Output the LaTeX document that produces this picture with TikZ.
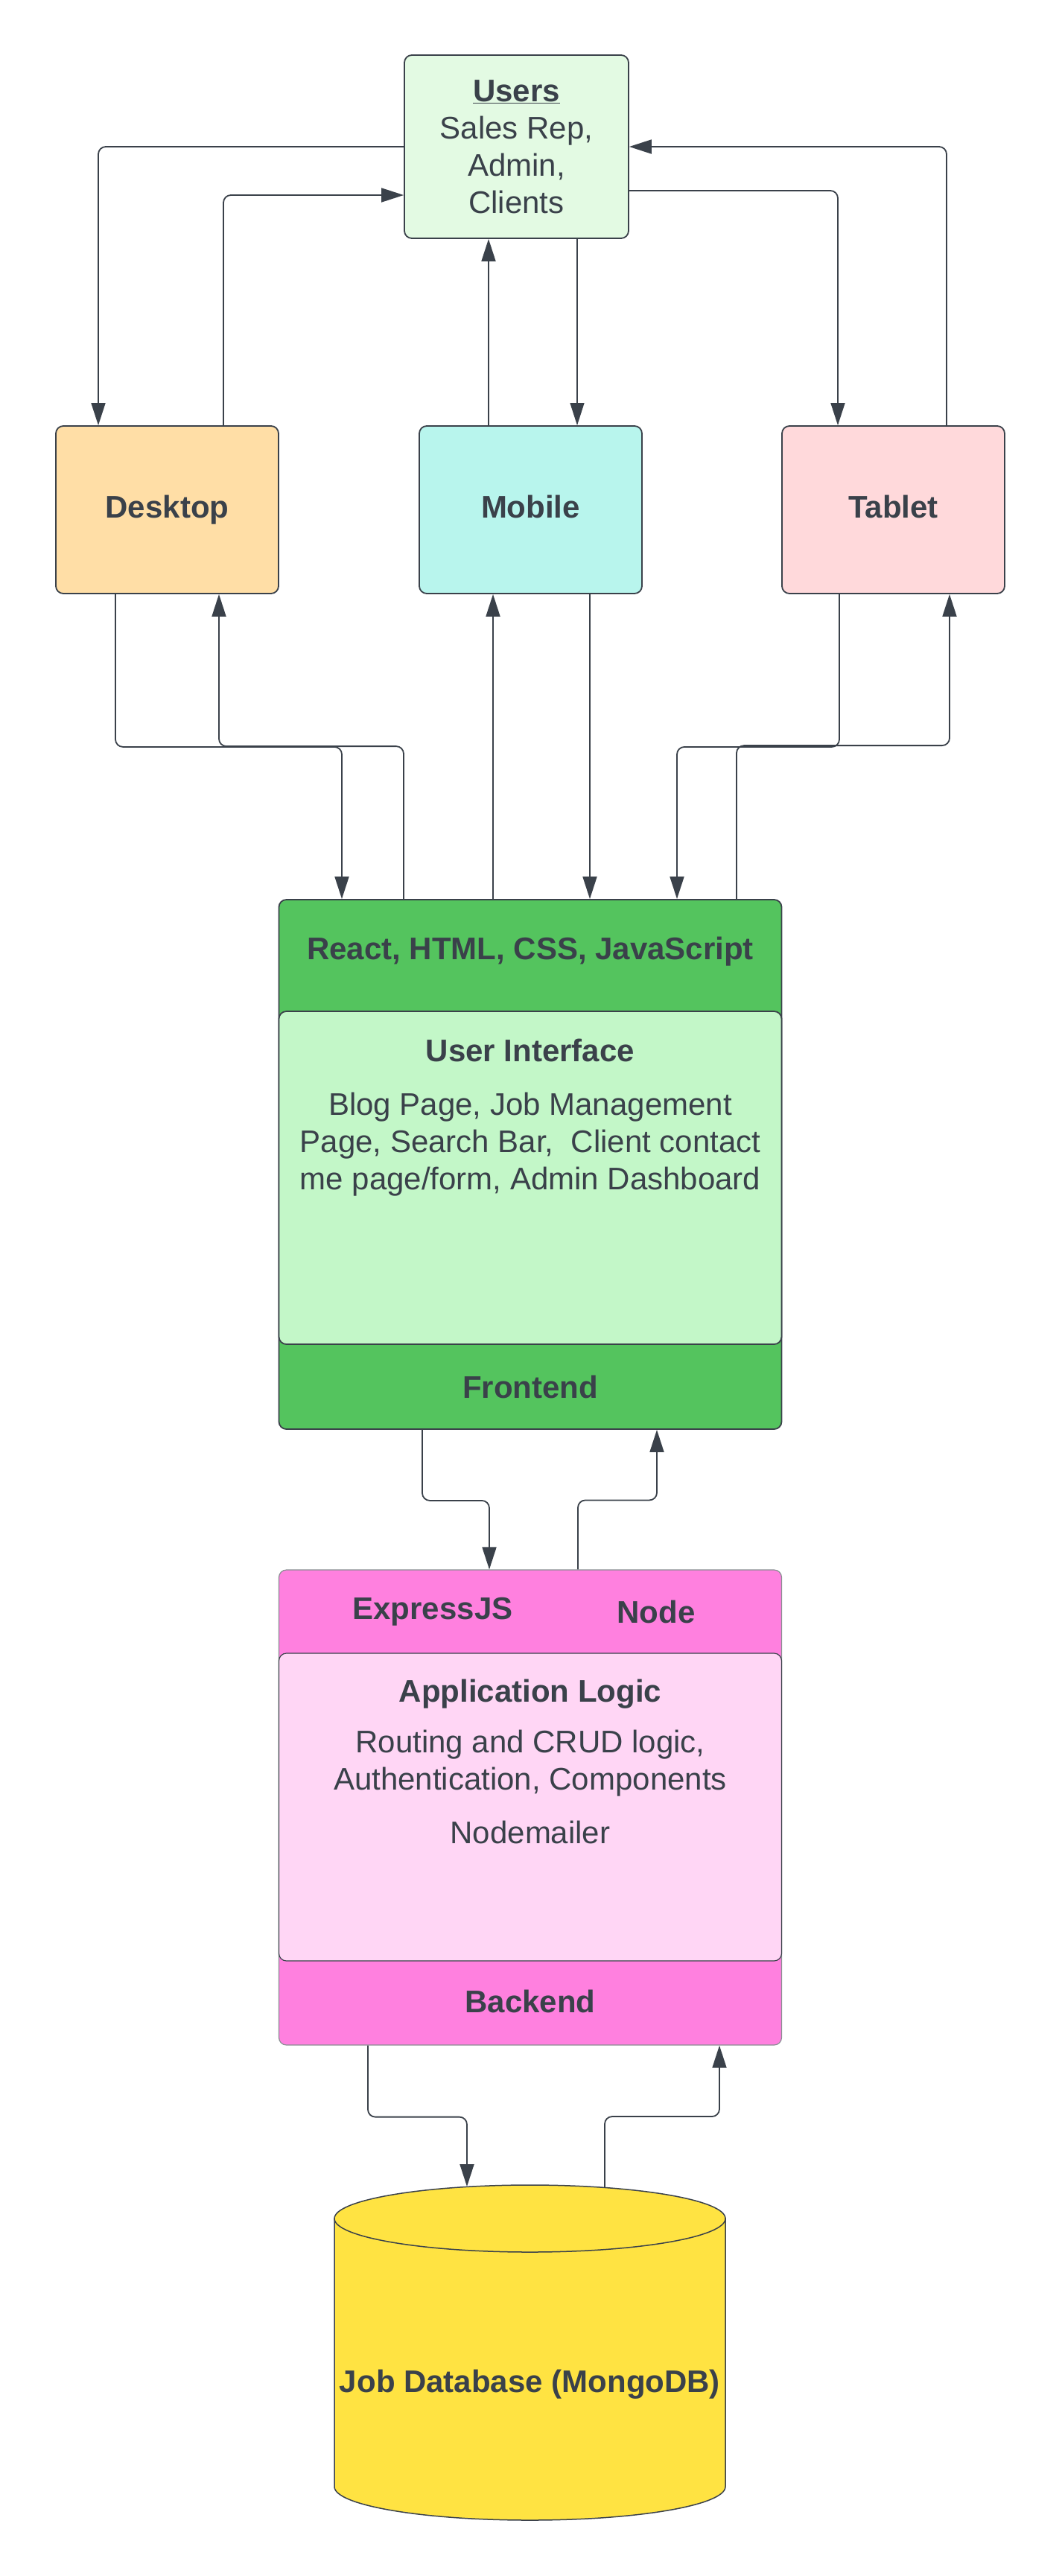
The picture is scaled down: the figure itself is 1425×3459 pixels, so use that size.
\documentclass[tikz,border=0pt]{standalone}
\usepackage{fontspec}
\setmainfont{Liberation Sans}
\usetikzlibrary{arrows.meta, positioning, calc}
\definecolor{linegray}{RGB}{58,65,74}
\definecolor{usersgreen}{RGB}{227,250,227}
\definecolor{desktoporange}{RGB}{255,222,166}
\definecolor{mobileteal}{RGB}{184,245,237}
\definecolor{tabletpink}{RGB}{255,217,219}
\definecolor{frontgreen}{RGB}{84,196,94}
\definecolor{frontlight}{RGB}{195,247,200}
\definecolor{backpink}{RGB}{255,128,223}
\definecolor{backlight}{RGB}{255,214,245}
\definecolor{dbyellow}{RGB}{255,227,66}
\newcommand{\diagfont}{\fontsize{42}{50}\selectfont}

\begin{document}
\begin{tikzpicture}[x=1pt, y=-1pt,
  box/.style={draw=linegray, line width=1.8pt, rounded corners=10pt,
    minimum width=299pt, minimum height=225pt, inner sep=0pt, align=center,
    text=linegray, font=\diagfont\bfseries},
  device/.style={box, text height=30pt, text depth=9pt},
  layer/.style={draw=linegray, line width=1.8pt, rounded corners=10pt,
    minimum width=675pt, inner sep=0pt},
  txt/.style={text=linegray, font=\diagfont\bfseries, inner sep=0pt, align=center},
  bodytxt/.style={text=linegray, font=\diagfont, inner sep=0pt, align=center},
  arr/.style={-{Triangle[length=30pt, width=19pt]}, line width=1.8pt, draw=linegray,
    rounded corners=10pt}
]
  \useasboundingbox (0,0) rectangle (1425,3459);

  % users and devices
  \node[box, fill=usersgreen, minimum width=301pt, minimum height=246pt, font=\diagfont] (users) at (693.5,197)
    {\underline{\textbf{Users}}\\Sales Rep,\\Admin,\\Clients};
  \node[device, fill=desktoporange] (desktop) at (224.5,684.5) {Desktop};
  \node[device, fill=mobileteal] (mobile) at (712.5,684.5) {Mobile};
  \node[device, fill=tabletpink] (tablet) at (1199.5,684.5) {Tablet};

  \draw[arr] (users.west) -| ([xshift=-92.5pt]desktop.north);
  \draw[arr] ([xshift=75.5pt]desktop.north) |- ([yshift=-65pt]users.west);
  \draw[arr] ([xshift=-56.5pt]mobile.north) -- ([xshift=-56.5pt]mobile.north |- users.south);
  \draw[arr, line width=1.2pt] ([xshift=62.5pt]mobile.north |- users.south) -- ([xshift=62.5pt]mobile.north);
  \draw[arr] ([yshift=-59pt]users.east) -| ([xshift=-74.5pt]tablet.north);
  \draw[arr] ([xshift=71.5pt]tablet.north) |- (users.east);

  % frontend
  \node[layer, fill=frontgreen, minimum height=711pt] (front) at (712,1563.5) {};
  \node[layer, fill=frontlight, minimum height=447pt] (frontbody) at (712,1581.5) {};
  \node[txt] (tech) at (712,1278) {React, HTML, CSS, JavaScript};
  \node[txt] (ui) at (712,1410) {User Interface};
  \node[bodytxt] (pages) at (712,1537) {Blog Page, Job Management\\Page, Search Bar,~ Client contact\\me page/form, Admin Dashboard};
  \node[txt] (fronttitle) at (712,1862) {Frontend};

  \draw[arr] ([xshift=-69.5pt]desktop.south) -- ++(0,205) -| ([xshift=-253pt]front.north);
  \draw[arr] ([xshift=-170pt]front.north) -- ++(0,-205) -| ([xshift=69.5pt]desktop.south);
  \draw[arr] ([xshift=-50pt]front.north) -- ([xshift=-50pt]front.north |- mobile.south);
  \draw[arr] ([xshift=80pt]front.north |- mobile.south) -- ([xshift=80pt]front.north);
  \draw[arr] ([xshift=-72.5pt]tablet.south) -- ++(0,205) -| ([xshift=197pt]front.north);
  \draw[arr] ([xshift=277pt]front.north) -- ++(0,-206) -| ([xshift=75.5pt]tablet.south);

  % backend
  \node[layer, fill=backpink, draw=linegray!60, line width=1.2pt, minimum height=638pt] (back) at (712,2427) {};
  \node[layer, fill=backlight, line width=1.2pt, minimum height=413pt] (backbody) at (712,2426.5) {};
  \node[txt] (express) at (581,2164) {ExpressJS};
  \node[txt] (nodejs) at (881,2164) {Node};
  \node[txt] (logic) at (712,2275) {Application Logic};
  \node[bodytxt] (routing) at (712,2368) {Routing and CRUD logic,\\Authentication, Components};
  \node[bodytxt] (mailer) at (712,2460) {Nodemailer};
  \node[txt] (backtitle) at (712,2687) {Backend};

  \draw[arr] ([xshift=-145pt]front.south) -- ++(0,95) -| ([xshift=-55pt]back.north);
  \draw[arr] ([xshift=64pt]back.north) -- ++(0,-93) -| ([xshift=170pt]front.south);

  % database
  \draw[linegray, line width=1.5pt, fill=dbyellow]
    (449,2979) -- (449,3339) .. controls (449,3363.9) and (566.5,3384) .. (711.5,3384)
    .. controls (856.5,3384) and (974,3363.9) .. (974,3339) -- (974,2979) -- cycle;
  \draw[linegray, line width=1.5pt, fill=dbyellow] (711.5,2979) ellipse [x radius=262.5, y radius=45];
  \coordinate (dbtop) at (711.5,2934);
  \node[txt] (db) at (711.5,3202) {Job Database (MongoDB)};

  \draw[arr] ([xshift=-218pt]back.south) -- ++(0,96) -| ([xshift=-84.5pt,yshift=-2pt]dbtop);
  \draw[arr] ([xshift=100.5pt,yshift=-3pt]dbtop) -- ++(0,-95) -| ([xshift=254pt]back.south);
\end{tikzpicture}
\end{document}
